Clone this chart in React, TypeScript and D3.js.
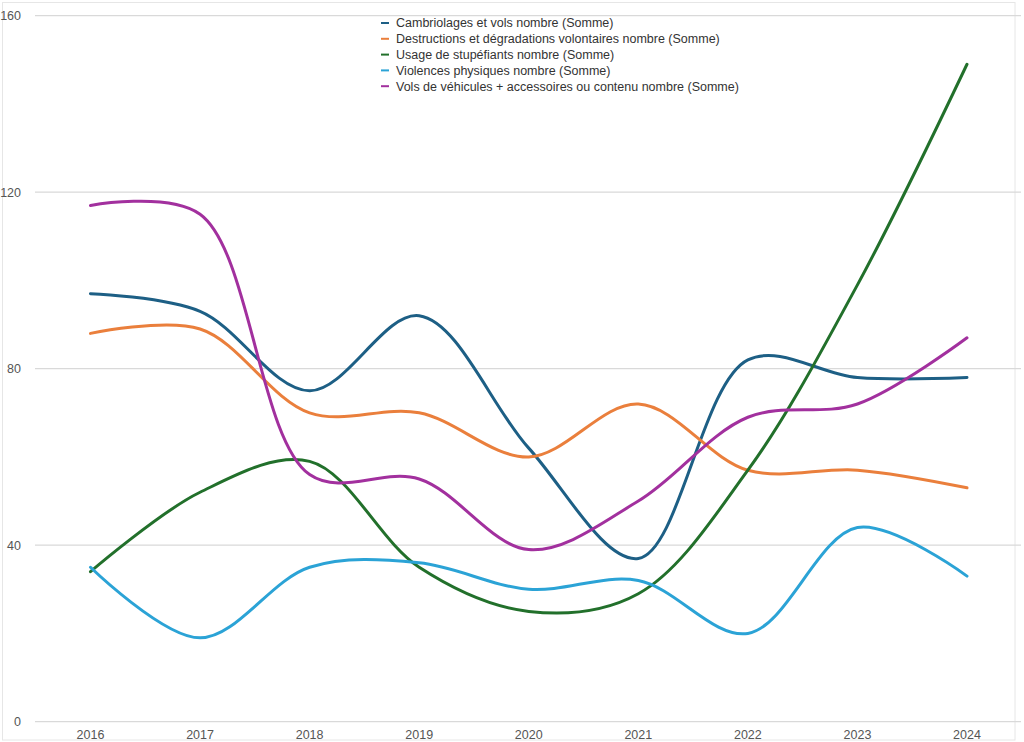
import React from "react";
import * as d3 from "d3";

// Années et séries
const years = [2016, 2017, 2018, 2019, 2020, 2021, 2022, 2023, 2024];
const yTicks = [0, 40, 80, 120, 160];

const cambriolages = [97, 93, 75, 92, 62, 37, 82, 78, 78];
const destructions = [88, 89, 70, 70, 60, 72, 57, 57, 53];
const stupefiants = [34, 52, 59, 35, 25, 29, 57, 99, 149];
const violences = [35, 19, 35, 36, 30, 32, 20, 44, 33];
const volsVehicules = [117, 115, 56, 55, 39, 50, 69, 72, 87];

const series = [
  { name: "Cambriolages et vols nombre (Somme)", color: "#1d5f85", values: cambriolages },
  { name: "Destructions et dégradations volontaires nombre (Somme)", color: "#ea7f3c", values: destructions },
  { name: "Usage de stupéfiants nombre (Somme)", color: "#22702b", values: stupefiants },
  { name: "Violences physiques nombre (Somme)", color: "#2ba3d6", values: violences },
  { name: "Vols de véhicules + accessoires ou contenu nombre (Somme)", color: "#a2309e", values: volsVehicules },
];

const W = 1024;
const H = 742;
const font = "'Liberation Sans', Arial, Helvetica, sans-serif";

export default function App() {
  const x = d3.scaleLinear().domain([2016, 2024]).range([90.5, 967]);
  const y = d3.scaleLinear().domain([0, 160]).range([721.7, 15.7]);

  const line = d3
    .line<number>()
    .x((_, i) => x(years[i]))
    .y((d) => y(d))
    .curve(d3.curveCatmullRom.alpha(0.5));

  return (
    <div style={{ position: "absolute", left: 0, top: 0 }}>
      <svg width={W} height={H} style={{ display: "block", background: "#fff" }}>
        {/* cadre */}
        <rect x={2.5} y={2.5} width={1012.5} height={737.5} fill="none" stroke="#e6e6e6" strokeWidth={1} />

        {/* grille + axe y */}
        {yTicks.map((t) => (
          <g key={t}>
            <line x1={35} x2={1021} y1={y(t)} y2={y(t)} stroke="#d9d9d9" strokeWidth={1.2} />
            <text x={21} y={y(t)} dy="0.35em" textAnchor="end" fontFamily={font} fontSize={12.5} fill="#555">
              {t}
            </text>
          </g>
        ))}

        {/* axe x */}
        {years.map((yr) => (
          <text key={yr} x={x(yr)} y={738.5} textAnchor="middle" fontFamily={font} fontSize={12.5} fill="#555">
            {yr}
          </text>
        ))}

        {/* courbes */}
        {series.map((s) => (
          <path
            key={s.name}
            d={line(s.values) ?? ""}
            fill="none"
            stroke={s.color}
            strokeWidth={3}
            strokeLinecap="round"
            strokeLinejoin="round"
          />
        ))}

        {/* légende */}
        <g fontFamily={font} fontSize={12.5} fill="#333">
          {series.map((s, i) => {
            const ly = 23 + i * 15.8;
            return (
              <g key={s.name}>
                <line x1={381} x2={389} y1={ly} y2={ly} stroke={s.color} strokeWidth={2} />
                <text x={396} y={ly} dy="0.35em">
                  {s.name}
                </text>
              </g>
            );
          })}
        </g>
      </svg>
    </div>
  );
}
